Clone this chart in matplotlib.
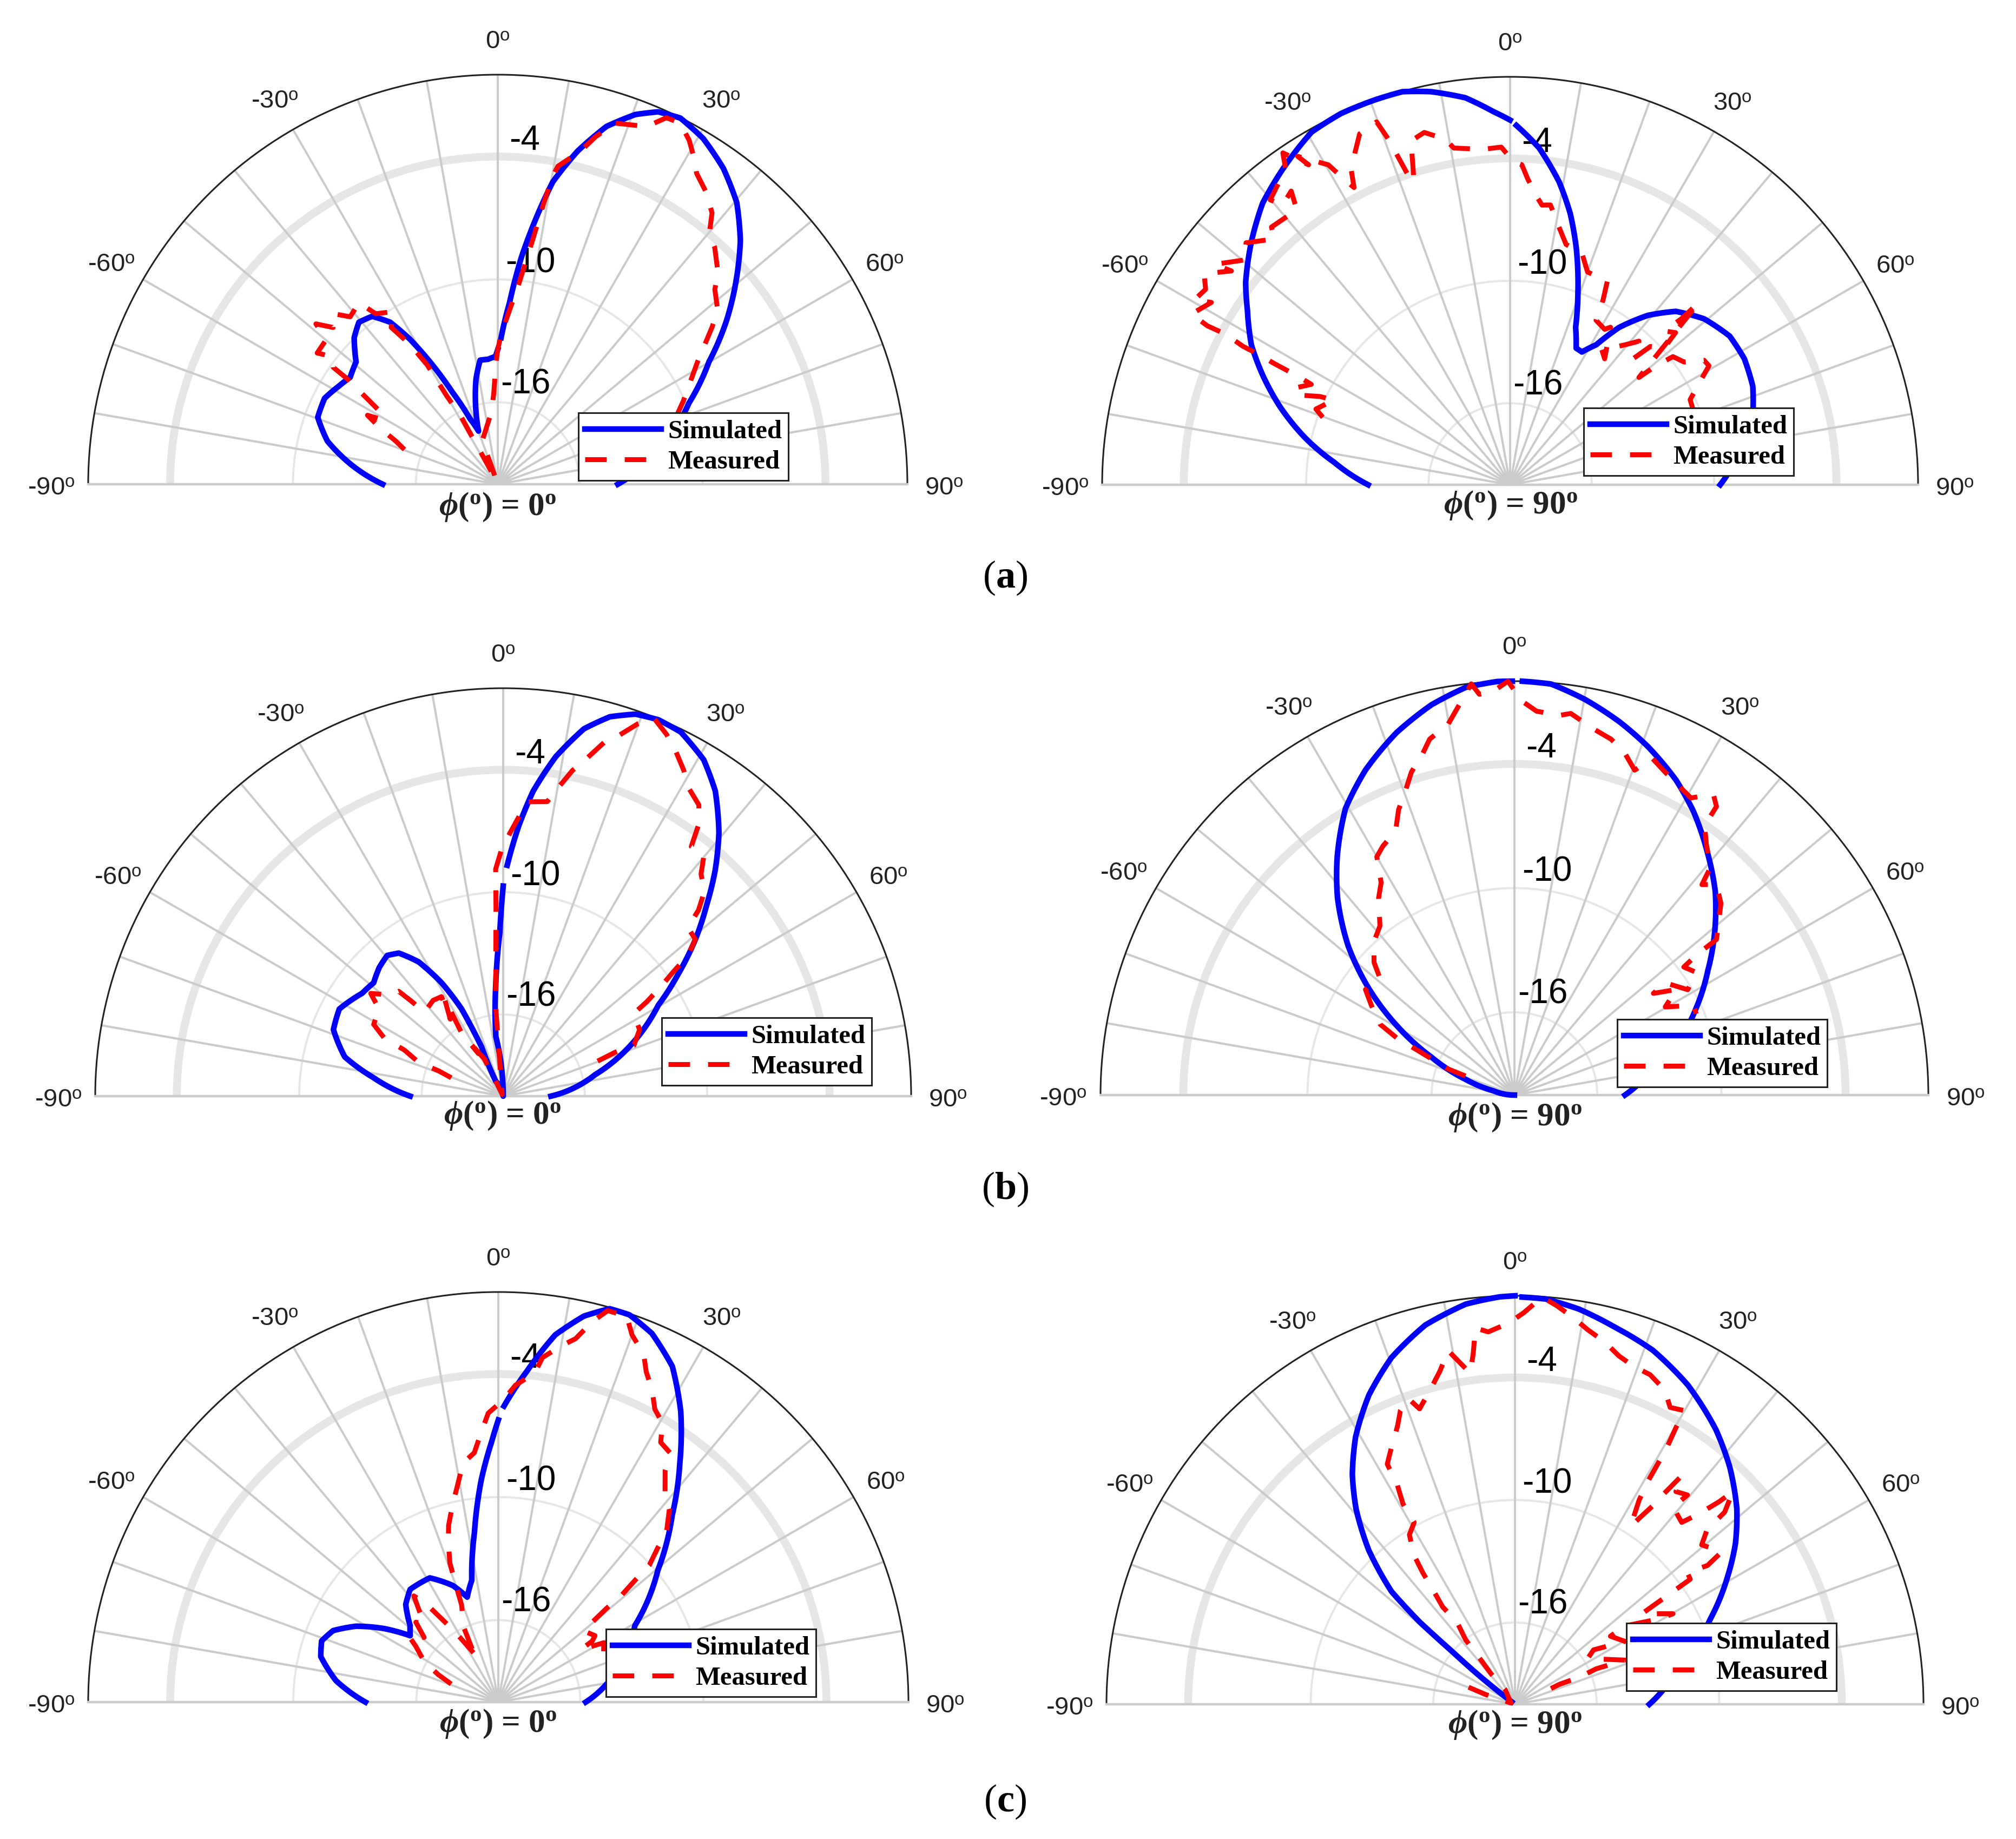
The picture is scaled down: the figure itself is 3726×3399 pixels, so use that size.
import numpy as np
from matplotlib import pyplot as plt
from matplotlib.lines import Line2D

plt.rcParams['font.family'] = ['Liberation Sans', 'DejaVu Sans']
plt.rcParams['mathtext.fontset'] = 'custom'
plt.rcParams['mathtext.rm'] = 'Liberation Serif'
plt.rcParams['mathtext.bf'] = 'Liberation Serif:bold'
plt.rcParams['mathtext.it'] = 'Liberation Serif:italic:bold'
plt.rcParams['mathtext.sf'] = 'Liberation Sans'

# angle in degrees, rho = normalized radius (0 at centre = -20 dB, 1 at rim = 0 dB)
nan = np.nan

a0_sim_theta = [-90, -82.1, -75.8, -69.6, -63.6, -58.3, -54.1, -49.2, -44.4, -40.6, -36.8, -33.6, -31.2, -29, -26.2, -23, -19.9, -15.9, -11.7, -8.1, -4.5, -1, 0, 0.6,
                1.3, 3.7, 5.9, 8.1, 10.3, 13.5, 16.9, 20.4, 23.3, 26.5, 30.7, 35.5, 40.3, 44.9, 49.7, 54.4, 59.9, 67, 76.7, 90]
a0_sim_rho = [.281, .364, .429, .469, .472, .456, .445, .457, .501, .521, .512, .475, .414, .342, .249, .174, .138, .197, .262, .306, .306, .312, .329, nan,
              .358, .444, .555, .652, .750, .837, .913, .963, .990, .999, .982, .948, .902, .839, .762, .687, .596, .507, .416, .293]
a0_mea_theta = [-69.6, -67.1, -64.7, -62.1, -60.7, -58.1, -56.5, -55, -54.6, -52.4, -54, -49.8, -48.6, -46.4, -44, -41.4, -37.4, -35.6, -31.3, -34.2, -32.1, -30.6, -30, -28.5, -28.4, -27.8, -20,
                -19.4, -19.9, -4.9, -2.5, -1.2, -.2, 1.3, 3.9, 5.9, 8.1, 9.3, 10.1, 10.7, 14, 15.7, 18, 22.6, 24.7, 26.8, 29.1, 31.4, 32.6, 35.5, 38.3, 40.2, 42.5, 46, 48.1, 51.6, 53.8, 58.5, 65.9, 72.8]
a0_mea_rho = [.243, .270, .314, .360, .321, .343, .390, .448, .493, .511, .545, .548, .592, .555, .579, .545, .558, .512, .493, .463, .403, .338, .248, .187, .128, .071, .007,
              .057, .112, .178, .223, .278, .324, .367, .427, .488, .601, .697, .763, .790, .839, .881, .927, .946, .985, .988, .961, .924, .901, .876, .844, .800, .784, .747, .712, .685, .648, .572, .496, .439]

a90_sim_theta = [-90, -82.7, -77.2, -71.3, -66.2, -61.6, -56.4, -52.6, -46.7, -41.3, -35.7, -29.4, -24.5, -19.4, -15.3, -11.4, -6.6, -2.6, 0, 0.5,
                 1, 4.9, 9.2, 12.5, 15.6, 19.5, 22.6, 25.8, 28.4, 31.6, 34.7, 39.1, 43.7, 49.5, 55.9, 61.7, 67.9, 73.7, 82.7, 90]
a90_sim_rho = [.348, .435, .514, .595, .662, .721, .773, .816, .871, .919, .954, .992, 1, 1, .999, .983, .955, .916, .894, nan,
               .881, .829, .752, .681, .603, .498, .418, .372, .370, .403, .469, .535, .588, .626, .650, .652, .642, .620, .565, .515]
a90_mea_theta = [-70.2, -68.7, -64.3, -65.1, -66.9, -65.9, -63.2, -62.9, -62.8, -62.6, -62.6, -62.1, -62.3, -61.8, -58.6, -59.7, -57.3, -55.4, -52.5, -53.3, -49.6, -47.5, -43.8, -42.8, -37.8, -36.7, -39.1, -40.1, -35.4, -34.4, -32.2, -32.9, -29.6, -28.4, -27.7, -26.7, -23.2, -20.2, -19.4, -18.3, -17.6, -16.8, -16.1, -13.7, -10.6, -9.5, -4.7, -1.5,
                 .6, 2.1, 3.3, 5.2, 6.5, 8.2, 10.8, 13.1, 17.2, 20, 25.5, 26.7, 27.6, 31.3, 32.5, 36.9, 34.2, 39.3, 41.9, 44.3, 45.4, 48.4, 47.4, 45.1, 45.9, 46, 50.2, 50.8, 51.8, 54.8, 57.3, 59.1, 61.4, 64.7, 67.5]
a90_mea_rho = [.488, .511, .479, .514, .560, .580, .546, .586, .650, .691, .738, .789, .838, .886, .858, .897, .887, .911, .861, .904, .851, .878, .835, .861, .853, .898, .884, .913, .950, .986, .927, .959, .902, .848, .823, .868, .936, .948, .898, .804, .779, .827, .877, .889, .862, .837, .825, .828,
               .792, .785, .751, .711, .690, .693, .642, .605, .595, .555, .554, .507, .455, .446, .458, .386, .400, .443, .473, .432, .483, .505, .551, .534, .585, .643, .411, .462, .508, .522, .565, .568, .531, .488, .485]

b0_sim_theta = [-90, -81.9, -76.1, -68.6, -62, -53.9, -48.8, -43.9, -39.5, -36.1, -32.2, -28.5, -25.5, -23.7, -26.6, 0, -7, -3.8, -1.2, 0, 0.5,
                1, 3.3, 5.6, 8.8, 12.4, 15.7, 19.1, 22.4, 26, 30.8, 34.8, 39.3, 43.2, 46.8, 50.8, 55.1, 59.6, 67.7, 76.8, 90]
b0_sim_rho = [.228, .321, .400, .447, .455, .428, .422, .438, .447, .434, .389, .316, .237, .132, .040, 0, .147, .274, .400, .515, nan,
              .566, .664, .751, .842, .922, .966, .991, .998, .993, .960, .911, .835, .759, .684, .608, .523, .441, .343, .232, .117]
b0_mea_theta = [-70.5, -68.6, -68.2, -65, -64, -61, -54.9, -52.2, -48.2, -44.9, -44.1, -43.1, -36.2, -31.8, -34.5, -31, -33.3, -30, -32.5, -26.8, -26.6, -30,
                -4.8, -2.9, -2.2, -1.9, -.4, 1.5, 3.7, 4.7, 8.5, 10.1, 12, 13.9, 15.9, 17.7, 19.9, 21.7, 24.3, 26.4, 29, 31, 33.9, 35.7, 37, 39.8, 41.7, 44.5, 46.4, 47.6, 50.8, 52.7, 53.9, 55.2, 56.7, 57.7, 64, 68.7, 68.6, 69.8]
b0_mea_rho = [.135, .170, .223, .267, .324, .363, .372, .411, .372, .363, .327, .282, .291, .287, .229, .280, .186, .120, .164, .102, .040, .005,
              .215, .358, .460, .557, .604, .646, .698, .724, .730, .768, .816, .853, .901, .927, .971, .998, .973, .948, .913, .882, .860, .822, .766, .769, .729, .704, .661, .613, .608, .569, .514, .471, .421, .378, .372, .344, .295, .241]

b90_sim_theta = [-90, -78.7, -72.2, -65.4, -59.5, -53.7, -48.2, -41.9, -36.6, -30.5, -24.6, -18, -12, -6.8, -2.4, -.3, 0.4,
                 1.1, 5.1, 10.1, 15.7, 20.9, 27.2, 32.3, 38.6, 44.6, 49.9, 57.2, 64.5, 70.7, 81.2, 90]
b90_sim_rho = [0, .051, .124, .221, .329, .438, .538, .640, .718, .804, .864, .921, .964, .992, 1, 1, nan,
               1, .997, .971, .937, .902, .855, .810, .748, .691, .634, .556, .486, .429, .326, .267]
b90_mea_theta = [-68.7, -68.5, -65, -64.1, -62.2, -57.9, -54.7, -48.9, -46.6, -42.4, -38.5, -34.6, -32.1, -30, -27.9, -24.2, -22.1, -19.7, -17.7, -15, -13.4, -10.1, -8.2, -6, -5, -2.9, -.9,
                 1.1, 3.3, 6.8, 8.4, 12.2, 15.2, 17.9, 20.3, 22.3, 25, 28, 30.7, 33.5, 35, 35.2, 37.5, 40.7, 41.7, 43.8, 47.1, 49.8, 52.4, 52.4, 52.9, 56, 58.7, 53.3, 53.8, 56.9, 59.7, 63.4, 65.9]
b90_mea_rho = [.127, .172, .267, .316, .367, .408, .441, .432, .467, .503, .522, .578, .606, .665, .680, .700, .744, .781, .819, .855, .884, .911, .949, .999, .972, .978, 1,
               .952, .929, .924, .932, .905, .891, .868, .837, .879, .861, .846, .835, .871, .851, .797, .762, .727, .681, .705, .681, .646, .616, .560, .513, .530, .490, .454, .416, .467, .422, .484, .481]

c0_sim_theta = [-90, -82.5, -75.6, -70.9, -66.6, -61.9, -57.2, -53, -49, -43.5, -38, -28.9, -21.3, -16.5, -12.3, -8, -4.4, -1.5, 0, 0.5,
                1.1, 4.9, 8.8, 12.5, 15.8, 18.7, 22.6, 27.4, 32.1, 37.2, 42.9, 50.4, 60.7, 79.1, 90]
c0_sim_rho = [.324, .399, .447, .456, .439, .393, .331, .269, .285, .328, .349, .346, .305, .267, .304, .418, .543, .634, .688, nan,
              .722, .809, .906, .964, .997, .997, .974, .922, .837, .732, .623, .505, .382, .276, .213]
c0_mea_theta = [-69, -65.4, -61.3, -55.9, -53.5, -48.9, -45.9, -43.5, -38.5, -36.2, -34.3, -31.5, -24.6, -26.2, -24.9, -20.7, -19.9, -19.2, -17.4, -15.7, -13, -10.7, -8.4, -5.5, -3.6, -2,
                1.1, 3.1, 6.3, 7.3, 10, 12, 13.9, 15.6, 18.4, 20, 22.7, 24.1, 26.3, 28.1, 30.5, 32, 34.6, 35.7, 38.5, 41.6, 44.7, 45.9, 47.8, 48.3, 49.1, 49.1, 49.6, 50.1, 55.5, 57, 57.5, 60.6, 68.9]
c0_mea_rho = [.123, .161, .206, .243, .272, .240, .280, .263, .331, .295, .247, .199, .118, .143, .197, .254, .306, .359, .408, .448, .495, .537, .589, .611, .660, .705,
              .739, .774, .807, .847, .882, .906, .956, .991, .992, .953, .919, .883, .847, .810, .789, .747, .738, .697, .653, .628, .583, .542, .497, .446, .396, .349, .301, .271, .286, .273, .238, .295, .275]

c90_sim_theta = [-53, -50, -49.2, -47.6, -43.5, -39.1, -35.3, -30.8, -25.3, -19.6, -13.3, -7, -2.2, 0, 0.5,
                 1, 4.3, 9.2, 14.6, 21.3, 28.4, 36.2, 42.2, 48.6, 53.9, 59.2, 66.4, 73, 81.4, 90]
c90_sim_rho = [.010, .194, .308, .409, .520, .617, .689, .762, .837, .901, .954, .987, .998, 1, nan,
               .997, .995, .980, .956, .930, .889, .833, .783, .724, .668, .605, .522, .456, .384, .329]
c90_mea_theta = [-69.8, -71.6, -73, -33.7, -38.1, -37.5, -37.4, -35.2, -36.6, -35.7, -35, -34.1, -31.9, -29, -29.2, -28.2, -28, -25.6, -22.9, -21.3, -19.2, -17.9, -14.9, -12.7, -10.7, -9.2, -7.7, -6.8, -6, -4.1, -1,
                 1.3, 3.8, 6, 8.6, 11, 13.9, 16.6, 19.3, 22.3, 25.5, 27.6, 30, 30.2, 30.6, 30.7, 30.8, 31.3, 33, 34.8, 35.3, 36.1, 37.1, 39.5, 38.7, 42.5, 44, 45.2, 45.7, 47.5, 47.7, 49.5, 53.6, 54.2, 52.6, 54.5, 54.5, 54.5, 54.5, 60.2, 59.3, 54.5, 54.5, 60.2, 55.3, 57.8, 68.1, 66.4, 67.2, 65.8, 67.3]
c90_mea_rho = [.121, .076, .010, .043, .094, .141, .199, .246, .297, .340, .394, .441, .489, .509, .562, .610, .666, .699, .739, .772, .792, .760, .800, .836, .881, .848, .818, .864, .926, .914, .933,
               .959, .999, .981, .957, .934, .914, .890, .877, .872, .852, .820, .830, .782, .732, .689, .635, .585, .520, .593, .633, .692, .653, .664, .619, .604, .648, .703, .745, .696, .636, .601, .629, .581, .531, .527, .484, .432, .382, .446, .409, .330, .287, .310, .234, .210, .290, .217, .170, .119, .073]

angle_ticks = [-90, -60, -30, 0, 30, 60, 90]
spoke_angles = list(range(-90, 91, 10))
ring_levels = [.2, .5, .8]
ring_widths = [2.8, 2.8, 10.5]
db_labels = ['-4', '-10', '-16']
db_theta = [4.4, 8.2, 15]
db_rho = [.85, .554, .262]
phi_labels = [r'$\phi$($^{\mathbf{o}}$) = 0$^{\mathbf{o}}$', r'$\phi$($^{\mathbf{o}}$) = 90$^{\mathbf{o}}$']
captions = ['a', 'b', 'c']

W, H = 3726, 3399
# layout in reference pixels: centre x, centre y, radius, legend left, legend bottom, phi label x, y
panels = [
    (920, 895, 757, 1069, 888, 920, 937, a0_sim_theta, a0_sim_rho, a0_mea_theta, a0_mea_rho, phi_labels[0]),
    (2791, 896, 754, 2927, 879, 2792, 934, a90_sim_theta, a90_sim_rho, a90_mea_theta, a90_mea_rho, phi_labels[1]),
    (930, 2026, 754, 1223, 2006, 929, 2062, b0_sim_theta, b0_sim_rho, b0_mea_theta, b0_mea_rho, phi_labels[0]),
    (2799, 2024, 765, 2989, 2009, 2800, 2065, b90_sim_theta, b90_sim_rho, b90_mea_theta, b90_mea_rho, phi_labels[1]),
    (921, 3146, 758, 1120, 3136, 921, 3186, c0_sim_theta, c0_sim_rho, c0_mea_theta, c0_mea_rho, phi_labels[0]),
    (2800, 3150, 755, 3006, 3125, 2800, 3188, c90_sim_theta, c90_sim_rho, c90_mea_theta, c90_mea_rho, phi_labels[1]),
]
caption_y = [1068, 2198, 3330]

fig = plt.figure(figsize=(W / 100, H / 100), dpi=100)

for cx, cy, R, leg_x, leg_y, phi_x, phi_y, sim_t, sim_r, mea_t, mea_r, phi in panels:
    # the half disc sits in the middle of a square axes box
    ax = fig.add_axes([(cx - R) / W, (H - cy - R / 2) / H, 2 * R / W, 2 * R / H], projection='polar')
    ax.set_theta_zero_location('N')
    ax.set_theta_direction(-1)
    ax.set_thetamin(-90)
    ax.set_thetamax(90)
    ax.set_rlim(0, 1)
    ax.set_thetagrids(spoke_angles, labels=[''] * len(spoke_angles))
    ax.set_rgrids(ring_levels, labels=[''] * len(ring_levels))
    ax.yaxis.grid(False)
    ax.tick_params(length=0)
    for line in ax.xaxis.get_gridlines():
        line.set(color='#cbcbcb', linewidth=2.9, linestyle='-')
    ax.spines['polar'].set(color='#222222', linewidth=2.2)
    ax.spines['start'].set(color='#cbcbcb', linewidth=3.2)
    ax.spines['end'].set(color='#cbcbcb', linewidth=3.2)

    # rings sit under the spokes
    for level, lw in zip(ring_levels, ring_widths):
        ring, = ax.plot(np.deg2rad(spoke_angles), [level] * len(spoke_angles), color='#e6e6e6', linewidth=lw,
                        solid_capstyle='butt', zorder=1)
        ring.get_path()._interpolation_steps = 30

    for t in angle_ticks:
        ax.annotate(f'{t}' + r'$^{\mathsf{o}}$', xy=(np.deg2rad(t), 1.09), xytext=(0, -6),
                    textcoords='offset points', fontsize=34, color='#222222',
                    ha='center', va='center', annotation_clip=False)
    for t, r, txt in zip(db_theta, db_rho, db_labels):
        ax.annotate(txt, xy=(np.deg2rad(t), r), xytext=(0, -5), textcoords='offset points',
                    fontsize=46, color='black', ha='center', va='center', zorder=2)

    sim_line, = ax.plot(np.deg2rad(sim_t), sim_r, color='#0000ff', linewidth=7.5, clip_on=False, zorder=3,
                        solid_joinstyle='round')
    # follow the polar curve between read points, as the polar grid lines do
    sim_line.get_path()._interpolation_steps = 12
    mea_line, = ax.plot(np.deg2rad(mea_t), mea_r, color='#ff0000', linewidth=6.5, linestyle=(0, (4.4, 3.7)),
                        clip_on=False, zorder=3.2)

    handles = [Line2D([], [], color='#0000ff', linewidth=7.5),
               Line2D([], [], color='#ff0000', linewidth=6.5, linestyle=(0, (4.4, 3.7)))]
    leg = fig.legend(handles, ['Simulated', 'Measured'], loc='lower left',
                     bbox_to_anchor=(leg_x / W, 1 - leg_y / H), borderaxespad=0,
                     prop={'family': 'Liberation Serif', 'weight': 'bold', 'size': 35},
                     handlelength=2.9, handletextpad=0.25, borderpad=0.25, labelspacing=0.25,
                     fancybox=False, framealpha=1, edgecolor='#222222')
    leg.get_frame().set_linewidth(2.2)

    fig.text(phi_x / W, 1 - phi_y / H, phi, family='Liberation Serif', weight='bold', fontsize=44,
             color='#222222', ha='center', va='center')

for letter, y in zip(captions, caption_y):
    fig.text(1858 / W, 1 - y / H, '(' + r'$\mathbf{' + letter + '}$' + ')', family='Liberation Serif',
             fontsize=52, color='black', ha='center', va='center')

fig.savefig('out.png', dpi=100)
